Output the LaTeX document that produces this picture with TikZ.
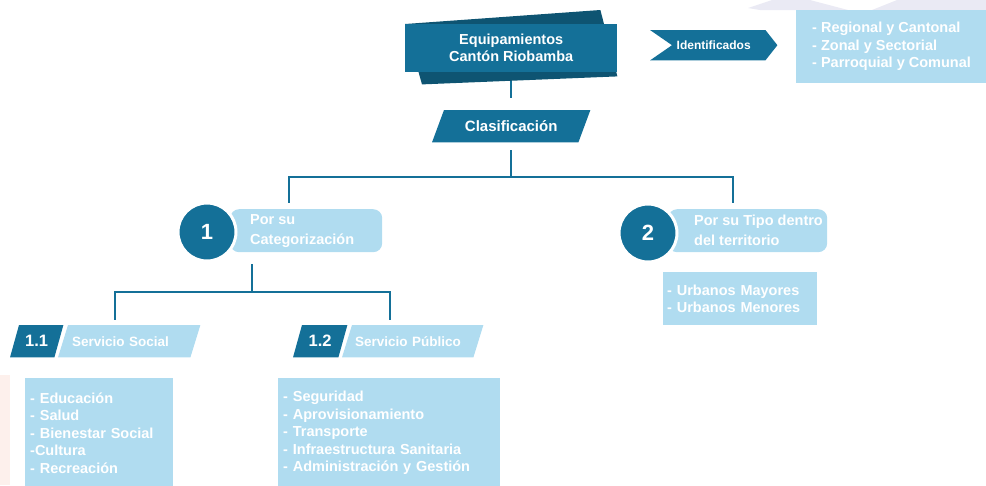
\documentclass[tikz,border=0pt]{standalone}
\usepackage{fontspec}
\setmainfont{Liberation Sans}
\usetikzlibrary{backgrounds}
\definecolor{teal1}{RGB}{20,112,152}
\definecolor{tealdark}{RGB}{14,84,114}
\definecolor{lightb}{RGB}{176,220,240}
\definecolor{lav}{RGB}{234,234,244}
\definecolor{pinkish}{RGB}{253,240,236}
\newcommand{\fsz}[2]{\bfseries\fontsize{#1}{#2}\selectfont}
\begin{document}
\begin{tikzpicture}[x=1pt,y=-1pt,
  conn/.style={draw=teal1, line width=2pt},
  bbox/.style={inner sep=0pt, anchor=north west, text=white},
  listbox/.style={fill=lightb, text=white, font=\fsz{14.5}{17.5}, align=left, anchor=north west, inner ysep=0pt},
  catbox/.style={fill=lightb, rounded corners=9pt, anchor=north west, inner sep=0pt, minimum height=43pt},
  cattxt/.style={anchor=west, align=left, inner sep=0pt, text=white, font=\fsz{14.5}{20}},
  num/.style={circle, fill=teal1, draw=white, line width=3pt, minimum size=58pt, inner sep=0pt, text=white, font=\fsz{22}{22}},
  parabox/.style={bbox, minimum height=32pt},
]
\useasboundingbox (0,0) rectangle (986,485);

% nodes
\node[bbox, fill=teal1, minimum width=212pt, minimum height=48pt, align=center, font=\fsz{14.5}{17}] (title) at (405,24) {Equipamientos\\Cantón Riobamba};
\node[parabox, minimum width=158pt, font=\fsz{15}{15}] (clasif) at (432,110) {Clasificación};
\node[parabox, minimum width=127pt, minimum height=30pt, font=\fsz{12}{12}] (ident) at (650,30) {Identificados};
\node[listbox, inner xsep=16pt, minimum height=73pt] (regbox) at (796,10) {- Regional y Cantonal\\- Zonal y Sectorial\\- Parroquial y Comunal};

\node[catbox, minimum width=152pt] (cat1) at (230,209) {};
\node[cattxt] (cat1t) at ([xshift=20pt]cat1.west) {Por su\\Categorización};
\node[num] (n1) at (207,232) {1};

\node[catbox, minimum width=159pt] (cat2) at (668,209) {};
\node[cattxt] (cat2t) at ([xshift=26pt]cat2.west) {Por su Tipo dentro\\del territorio};
\node[num] (n2) at (648,233) {2};

\node[listbox, inner xsep=4pt, text width=146pt, minimum height=53pt] (urb) at (663,272) {- Urbanos Mayores\\- Urbanos Menores};

\node[parabox, minimum width=53pt, font=\fsz{16.5}{16.5}] (p11) at (10,325) {1.1};
\node[parabox, align=left, text width=114pt, inner xsep=14pt, font=\fsz{13.5}{13.5}] (ss) at (58,325) {Servicio Social};
\node[parabox, minimum width=54pt, font=\fsz{16.5}{16.5}] (p12) at (293,325) {1.2};
\node[parabox, align=left, text width=115pt, inner xsep=13pt, font=\fsz{13.5}{13.5}] (sp) at (342,325) {Servicio Público};

\node[listbox, inner xsep=5pt, text width=138pt, minimum height=110pt] (l1) at (25,378) {- Educación\\- Salud\\- Bienestar Social\\-Cultura\\- Recreación};
\node[listbox, inner xsep=5pt, text width=212pt, minimum height=110pt] (l2) at (278,378) {- Seguridad\\- Aprovisionamiento\\- Transporte\\- Infraestructura Sanitaria\\- Administración y Gestión};

\begin{pgfonlayer}{background}
  % faint decorations
  \fill[lav] (748,8) -- (772,0) -- (810,0) -- (848,10) -- (760,10) -- cycle;
  \fill[lav] (897,0) -- (986,0) -- (986,10) -- (872,10) -- cycle;
  \fill[pinkish] (0,375) rectangle (10,485);
  % connectors
  \draw[conn, shorten <=8pt, shorten >=12pt] (title.south) -- (clasif.north);
  \draw[conn, shorten <=8pt] (clasif.south) -- ++(0,35) -| ([xshift=-17pt,yshift=6pt]cat1.north);
  \draw[conn, shorten <=8pt] (clasif.south) -- ++(0,35) -| ([xshift=-14.5pt,yshift=6pt]cat2.north);
  \draw[conn, shorten <=12pt] ([xshift=22pt]cat1.south west) -- ++(0,40) -| ([xshift=-14pt,yshift=5pt]ss.north);
  \draw[conn, shorten <=12pt] ([xshift=22pt]cat1.south west) -- ++(0,40) -| ([xshift=-23pt,yshift=5pt]sp.north);
  % shapes
  \fill[tealdark] (title.north west) -- ([xshift=-17pt,yshift=14pt]title.north east) -- ([yshift=-4pt]title.south east) -- ([xshift=17pt,yshift=-12pt]title.south west) -- cycle;
  \fill[teal1] ([xshift=12pt]clasif.north west) -- (clasif.north east) -- ([xshift=-12pt]clasif.south east) -- (clasif.south west) -- cycle;
  \fill[teal1] (ident.north west) -- ([xshift=-12pt]ident.north east) -- (ident.east) -- ([xshift=-12pt]ident.south east) -- (ident.south west) -- ([xshift=22pt]ident.west) -- cycle;
  \fill[teal1] ([xshift=9pt]p11.north west) -- (p11.north east) -- ([xshift=-9pt]p11.south east) -- (p11.south west) -- cycle;
  \fill[lightb] ([xshift=10pt]ss.north west) -- (ss.north east) -- ([xshift=-10pt]ss.south east) -- (ss.south west) -- cycle;
  \fill[teal1] ([xshift=9pt]p12.north west) -- (p12.north east) -- ([xshift=-9pt]p12.south east) -- (p12.south west) -- cycle;
  \fill[lightb] ([xshift=10pt]sp.north west) -- (sp.north east) -- ([xshift=-10pt]sp.south east) -- (sp.south west) -- cycle;
\end{pgfonlayer}
\end{tikzpicture}
\end{document}
